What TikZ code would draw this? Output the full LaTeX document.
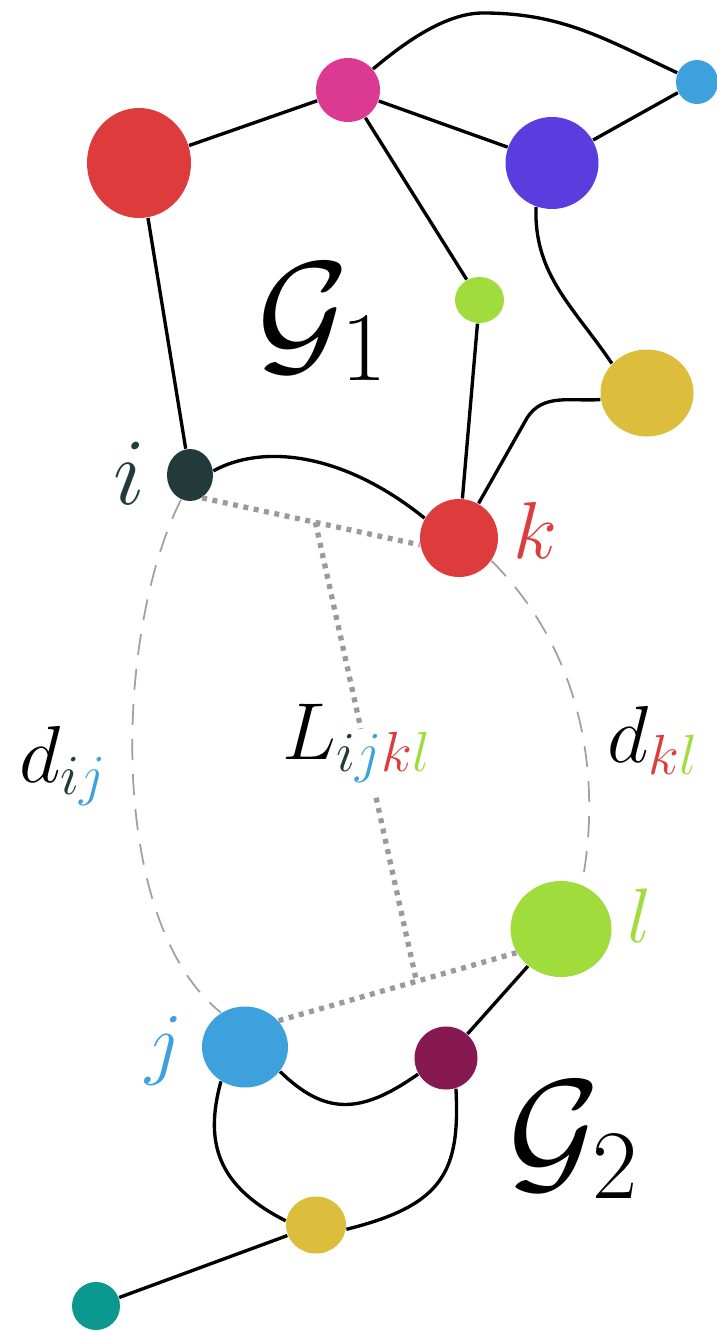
\documentclass[tikz,border=0pt]{standalone}
\usepackage{fix-cm}
\usepackage{amsmath}
\usetikzlibrary{shapes.geometric,calc}
\definecolor{cred}{HTML}{DE3C3C}
\definecolor{cpink}{HTML}{DC3A92}
\definecolor{cblue}{HTML}{3DA1DD}
\definecolor{cpurple}{HTML}{5B3CDF}
\definecolor{cgreen}{HTML}{A0DD3C}
\definecolor{cyellow}{HTML}{DDBE3C}
\definecolor{cdark}{HTML}{223A3A}
\definecolor{cmaroon}{HTML}{861852}
\definecolor{cteal}{HTML}{0A998E}
\definecolor{dotgray}{HTML}{9A9A9A}
\definecolor{dashgray}{HTML}{A0A0A0}
\begin{document}
\begin{tikzpicture}[
  dot/.style={ellipse, inner sep=0pt, draw=none},
  edge/.style={line width=0.95pt, black},
  dotl/.style={line width=1.5pt, color=dotgray, dash pattern=on 1.4pt off 1.6pt},
  dsh/.style={line width=0.5pt, color=dashgray, dash pattern=on 6pt off 4pt},
  lab/.style={inner sep=0pt, font=\fontsize{23}{28}\selectfont},
  glab/.style={inner sep=0pt, font=\fontsize{40}{48}\selectfont},
]
\useasboundingbox (0,0) rectangle (7.17,-13.31);

% nodes
\node[dot, fill=cred,    minimum width=1.04cm, minimum height=1.10cm] (r1) at (1.39,-1.63) {};
\node[dot, fill=cpink,   minimum width=0.64cm, minimum height=0.64cm] (pk) at (3.48,-0.90) {};
\node[dot, fill=cblue,   minimum width=0.42cm, minimum height=0.44cm] (lb) at (6.97,-0.82) {};
\node[dot, fill=cpurple, minimum width=0.93cm, minimum height=0.92cm] (pu) at (5.52,-1.63) {};
\node[dot, fill=cgreen,  minimum width=0.49cm, minimum height=0.46cm] (gs) at (4.795,-3.00) {};
\node[dot, fill=cyellow, minimum width=0.93cm, minimum height=0.87cm] (ye) at (6.47,-3.93) {};
\node[dot, fill=cdark,   minimum width=0.46cm, minimum height=0.52cm] (i) at (1.90,-4.75) {};
\node[dot, fill=cred,    minimum width=0.78cm, minimum height=0.78cm] (k) at (4.59,-5.38) {};
\node[dot, fill=cgreen,  minimum width=1.01cm, minimum height=0.96cm] (l) at (5.61,-9.29) {};
\node[dot, fill=cblue,   minimum width=0.86cm, minimum height=0.81cm] (j) at (2.45,-10.47) {};
\node[dot, fill=cmaroon, minimum width=0.63cm, minimum height=0.63cm] (m) at (4.46,-10.58) {};
\node[dot, fill=cyellow, minimum width=0.60cm, minimum height=0.57cm] (y2) at (3.16,-12.25) {};
\node[dot, fill=cteal,   minimum width=0.48cm, minimum height=0.48cm] (t) at (0.96,-13.06) {};

% graph 1 edges
\draw[edge] (r1) -- (pk);
\draw[edge] (pk) -- (pu);
\draw[edge] (pu) -- (lb);
\coordinate (peak) at (4.83,-0.13);
\draw[edge] (pk) to[out=40,in=180,looseness=0.8] (peak) to[out=0,in=155] (lb);
\draw[edge] (pk) -- (gs);
\draw[edge] (r1) -- (i);
\draw[edge] (gs) -- (k);
\draw[edge] (pu.250) to[out=-92,in=124] (ye.140);
\coordinate (bend) at (5.27,-4.18);
\draw[edge] (ye.188) to[out=184,in=58] (bend) -- (k);
\draw[edge] (i.10) .. controls (2.6,-4.45) and (3.4,-4.5) .. (k.150);

% graph 2 edges
\draw[edge] (j.-35) .. controls (3.25,-11.15) and (3.6,-11.15) .. (m.210);
\draw[edge] (j.-125) .. controls (2.05,-11.4) and (2.15,-11.85) .. (y2.172);
\draw[edge] (m.-72) .. controls (4.6,-11.7) and (4.45,-12.05) .. (y2.-8);
\draw[edge] (m) -- (l);
\draw[edge] (y2) -- (t);

% dotted construction
\draw[dotl] (i.-62) -- (k.190);
\draw[dotl] (j.38) -- (l.208);
\coordinate (M1) at ($(i.-62)!0.52!(k.190)$);
\coordinate (M2) at ($(j.38)!0.58!(l.208)$);
\path (M1) -- (M2) coordinate[pos=0.45] (g1) coordinate[pos=0.6] (g2);
\draw[dotl] (M1) -- (g1);
\draw[dotl] (g2) -- (M2);

% dashed distances
\draw[dsh] (i.250) .. controls (1.15,-6.3) and (1.05,-9.2) .. (j.125);
\draw[dsh] (k.-35) .. controls (5.9,-6.6) and (6.0,-7.9) .. (l.65);

% labels
\node[lab, text=cdark, font=\fontsize{27}{32}\selectfont] (li) at (1.29,-4.73) {$i$};
\node[lab, text=cred]   (lk) at (5.35,-5.30) {$k$};
\node[lab, text=cblue]  (lj) at (1.64,-10.51) {$j$};
\node[lab, text=cgreen, font=\fontsize{22}{26}\selectfont] (ll) at (6.40,-9.16) {$l$};
\node[lab] (Lab) at (3.57,-7.43)
  {$L_{\textcolor{cdark}{i}\textcolor{cblue}{j}\textcolor{cred}{k}\textcolor{cgreen}{l}}$};
\node[lab] (dij) at (0.635,-7.66)
  {$d_{\textcolor{cdark}{i}\textcolor{cblue}{j}}$};
\node[lab] (dkl) at (6.53,-7.40)
  {$d_{\textcolor{cred}{k}\textcolor{cgreen}{l}}$};
\node[glab] (G1) at (3.23,-3.22) {$\mathcal{G}_1$};
\node[glab] (G2) at (5.74,-11.40) {$\mathcal{G}_2$};
\end{tikzpicture}
\end{document}
